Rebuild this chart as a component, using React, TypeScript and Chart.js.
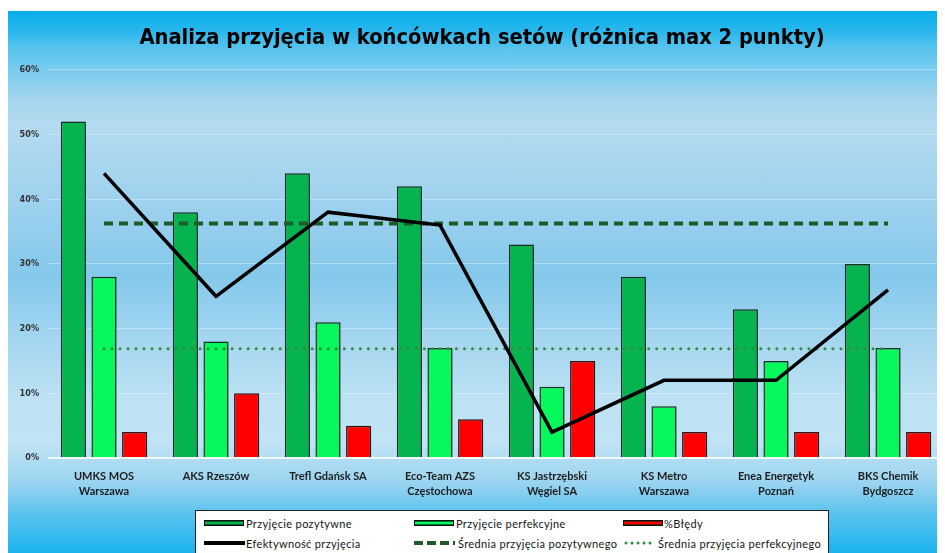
import React, { useEffect, useRef } from "react";
import { Chart, registerables } from "chart.js";

Chart.register(...registerables);

const titleText = "Analiza przyjęcia w końcówkach setów (różnica max 2 punkty)";

const categories: string[][] = [
  ["UMKS MOS", "Warszawa"],
  ["AKS Rzeszów"],
  ["Trefl Gdańsk SA"],
  ["Eco-Team AZS", "Częstochowa"],
  ["KS Jastrzębski", "Węgiel SA"],
  ["KS Metro", "Warszawa"],
  ["Enea Energetyk", "Poznań"],
  ["BKS Chemik", "Bydgoszcz"],
];

const seriesLabels = [
  "Przyjęcie pozytywne",
  "Przyjęcie perfekcyjne",
  "%Błędy",
  "Efektywność przyjęcia",
  "Średnia przyjęcia pozytywnego",
  "Średnia przyjęcia perfekcyjnego",
];

const positive = [52, 38, 44, 42, 33, 28, 23, 30];
const perfect = [28, 18, 21, 17, 11, 8, 15, 17];
const errors = [4, 10, 5, 6, 15, 4, 4, 4];
const efficiency = [44, 25, 38, 36, 4, 12, 12, 26];
const avgPositive = [36.25, 36.25, 36.25, 36.25, 36.25, 36.25, 36.25, 36.25];
const avgPerfect = [16.875, 16.875, 16.875, 16.875, 16.875, 16.875, 16.875, 16.875];

const yTicks = [0, 10, 20, 30, 40, 50, 60];

const C_POS = "#07b34f";
const C_PERF = "#05f85c";
const C_ERR = "#fe0000";
const C_EFF = "#000000";
const C_AVGPOS = "#1e5a2a";
const C_AVGPERF = "#2f8d3b";

const W = 937;
const H = 542;

const barShadow = {
  id: "barShadow",
  beforeDatasetDraw(chart: any, args: any) {
    const ds = chart.data.datasets[args.index];
    if (ds.type === "bar") {
      const ctx = chart.ctx;
      ctx.save();
      ctx.shadowColor = "rgba(0,0,0,0.3)";
      ctx.shadowBlur = 3;
      ctx.shadowOffsetX = 2;
      ctx.shadowOffsetY = 1;
    }
  },
  afterDatasetDraw(chart: any, args: any) {
    const ds = chart.data.datasets[args.index];
    if (ds.type === "bar") chart.ctx.restore();
  },
};

function BarSwatch({ color }: { color: string }) {
  return (
    <div
      style={{
        width: 40,
        height: 6,
        border: "1px solid #111",
        background: `linear-gradient(to bottom, #0a2a14 0%, ${color} 35%, ${color} 65%, #0a2a14 100%)`,
        boxSizing: "border-box",
      }}
    />
  );
}

function LineSwatch({ color, dash, width, cap, w }: { color: string; dash?: string; width: number; cap: string; w: number }) {
  return (
    <svg width={w} height={8} style={{ display: "block" }}>
      <line
        x1={cap === "round" ? 2 : 0}
        y1={4}
        x2={w - (cap === "round" ? 2 : 0)}
        y2={4}
        stroke={color}
        strokeWidth={width}
        strokeDasharray={dash}
        strokeLinecap={cap as any}
      />
    </svg>
  );
}

export default function App() {
  const ref = useRef<HTMLCanvasElement>(null);

  useEffect(() => {
    document.documentElement.style.overflow = "hidden";
    const chart = new Chart(ref.current as HTMLCanvasElement, {
      type: "bar",
      data: {
        labels: categories as any,
        datasets: [
          {
            type: "bar",
            label: seriesLabels[0],
            data: positive,
            backgroundColor: C_POS,
            borderColor: "#1a3324",
            borderWidth: 1.5,
            categoryPercentage: 0.82,
            barPercentage: 0.82,
            order: 3,
          },
          {
            type: "bar",
            label: seriesLabels[1],
            data: perfect,
            backgroundColor: C_PERF,
            borderColor: "#1a3324",
            borderWidth: 1.5,
            categoryPercentage: 0.82,
            barPercentage: 0.82,
            order: 3,
          },
          {
            type: "bar",
            label: seriesLabels[2],
            data: errors,
            backgroundColor: C_ERR,
            borderColor: "#3a1111",
            borderWidth: 1.5,
            categoryPercentage: 0.82,
            barPercentage: 0.82,
            order: 3,
          },
          {
            type: "line",
            label: seriesLabels[3],
            data: efficiency,
            borderColor: C_EFF,
            borderWidth: 3.5,
            pointRadius: 0,
            tension: 0,
            borderJoinStyle: "miter",
            order: 0,
          },
          {
            type: "line",
            label: seriesLabels[4],
            data: avgPositive,
            borderColor: C_AVGPOS,
            borderWidth: 4,
            borderDash: [9, 6],
            pointRadius: 0,
            order: 1,
          },
          {
            type: "line",
            label: seriesLabels[5],
            data: avgPerfect,
            borderColor: C_AVGPERF,
            borderWidth: 3,
            borderDash: [0.01, 8],
            borderCapStyle: "round",
            pointRadius: 0,
            order: 1,
          },
        ] as any,
      },
      options: {
        responsive: false,
        animation: false,
        layout: { padding: { left: 12, right: 1, top: 0, bottom: 47 } },
        plugins: {
          legend: { display: false },
          tooltip: { enabled: false },
          title: {
            display: true,
            text: titleText,
            color: "#000",
            font: { family: "'DejaVu Sans Condensed', 'Liberation Sans Narrow', 'DejaVu Sans', sans-serif", size: 21.7, weight: "bold", lineHeight: 1.1 },
            padding: { top: 15, bottom: 20 },
          },
        },
        scales: {
          x: {
            grid: { display: false, drawTicks: false },
            border: { display: false },
            ticks: {
              padding: 10,
              color: "#1e1e1e",
              autoSkip: false,
              maxRotation: 0,
              font: { family: "Lato, 'Open Sans', sans-serif", size: 11, weight: "bold", lineHeight: 1.45 },
            },
            afterFit: (s: any) => {
              s.height = 48;
            },
          },
          y: {
            min: 0,
            max: 60,
            afterBuildTicks: (s: any) => {
              s.ticks = yTicks.map((v) => ({ value: v }));
            },
            ticks: {
              callback: (v: any) => v + "%",
              padding: 9,
              color: "#333",
              font: { family: "'DejaVu Sans Condensed', 'Liberation Sans Narrow', 'DejaVu Sans', sans-serif", size: 9, weight: "bold" },
            },
            grid: {
              drawTicks: false,
              color: (ctx: any) => (ctx.tick && ctx.tick.value === 0 ? "rgba(255,255,255,0.85)" : "rgba(255,255,255,0.35)"),
              lineWidth: (ctx: any) => (ctx.tick && ctx.tick.value === 0 ? 2 : 1),
            },
            border: { display: false },
            afterFit: (s: any) => {
              s.width = 28;
            },
          },
        },
      },
      plugins: [barShadow],
    });
    return () => chart.destroy();
  }, []);

  const legendFont: React.CSSProperties = {
    position: "absolute",
    fontFamily: "Lato, 'Open Sans', sans-serif",
    fontSize: 11,
    letterSpacing: 0.35,
    color: "#151515",
    lineHeight: "13px",
    whiteSpace: "nowrap",
    transform: "translateY(-50%)",
  };
  const swatchPos = (left: number, top: number): React.CSSProperties => ({
    position: "absolute",
    left,
    top,
    transform: "translateY(-50%)",
  });

  // legend positions relative to box (box page-left 195, page-top 510)
  const legendItems = [
    { sx: 8, tx: 50, y: 12, sw: <BarSwatch color={C_POS} />, label: seriesLabels[0] },
    { sx: 218, tx: 260, y: 12, sw: <BarSwatch color={C_PERF} />, label: seriesLabels[1] },
    { sx: 427, tx: 468, y: 12, sw: <BarSwatch color={C_ERR} />, label: seriesLabels[2] },
    { sx: 8, tx: 50, y: 32, sw: <LineSwatch color={C_EFF} width={4} cap="butt" w={41} />, label: seriesLabels[3] },
    { sx: 218, tx: 262, y: 32, sw: <LineSwatch color={C_AVGPOS} width={4} dash="9 4" cap="butt" w={41} />, label: seriesLabels[4] },
    { sx: 428, tx: 462, y: 32, sw: <LineSwatch color={C_AVGPERF} width={3} dash="0.01 6" cap="round" w={32} />, label: seriesLabels[5] },
  ];

  return (
    <div
      style={{
        position: "relative",
        width: W,
        height: H,
        marginTop: 3,
        overflow: "hidden",
        background:
          "linear-gradient(to bottom, #07aeec 0%, #2db8ed 4%, #5cc5ee 7.2%, #a5d5ef 16.4%, #b3dbf0 20.7%, #9fd2ee 34.9%, #84c8ea 48.7%, #a5d6f0 61%, #bde2f3 72%, #c0e4f4 79.5%, #9bd4f0 86.9%, #58c2ee 93%, #1ab3ee 100%)",
      }}
    >
      <canvas ref={ref} width={W} height={H} style={{ display: "block" }} />
      <div
        style={{
          position: "absolute",
          left: 187,
          top: 499,
          width: 634,
          height: 60,
          background: "#fff",
          border: "1.5px solid #222",
          boxSizing: "border-box",
        }}
      >
        {legendItems.map((it, i) => (
          <React.Fragment key={i}>
            <div style={swatchPos(it.sx, it.y)}>{it.sw}</div>
            <div style={{ ...legendFont, left: it.tx, top: it.y }}>{it.label}</div>
          </React.Fragment>
        ))}
      </div>
    </div>
  );
}
